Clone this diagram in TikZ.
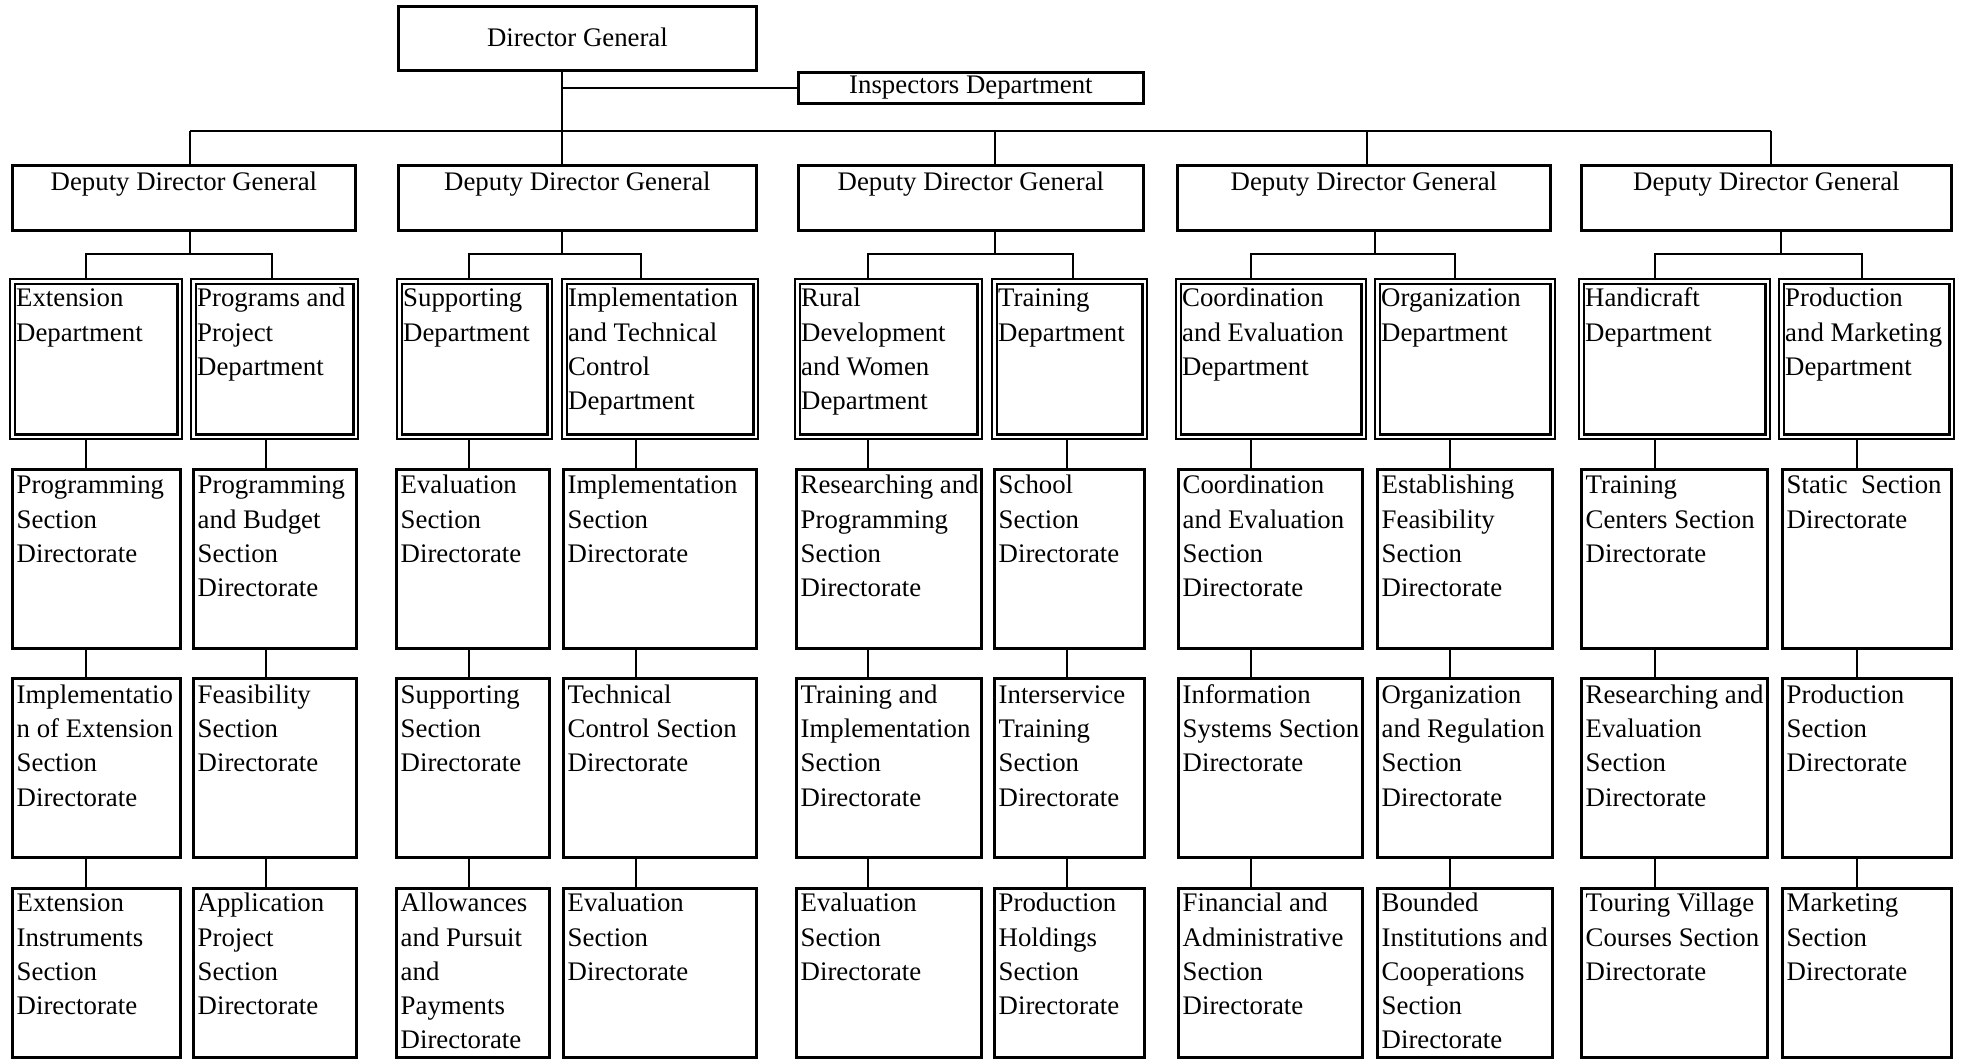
\documentclass[tikz,border=0pt]{standalone}
\usepackage{fontspec}
\setmainfont{Liberation Serif}
\begin{document}
\begin{tikzpicture}[x=1pt,y=-1pt,
  box/.style={draw, line width=2.8pt, inner sep=0pt, anchor=north west},
  dbox/.style={draw, line width=2.4pt, double, double distance=2.4pt, inner sep=0pt, anchor=north west},
  conn/.style={line width=2pt},
  txt/.style={inner sep=0pt, anchor=north west, align=left, font=\fontsize{26.8pt}{34.3pt}\selectfont},
  ctxt/.style={inner sep=0pt, anchor=north, align=center, font=\fontsize{26.8pt}{34.3pt}\selectfont}]
\useasboundingbox (0,0) rectangle (1962,1059);
\fill[white] (0,0) rectangle (1962,1059);
% top level
\node[box, minimum width=358pt, minimum height=64pt, font=\fontsize{26.8pt}{34.3pt}\selectfont] (dg) at (397,5) {\raisebox{1.5pt}{Director General}};
\node[box, minimum width=345pt, minimum height=31pt, font=\fontsize{26.8pt}{34.3pt}\selectfont] (insp) at (797,71) {Inspectors Department};
% deputy directors
\node[box, minimum width=343pt, minimum height=65pt] (ddg1) at (11,164) {};
\node[box, minimum width=358pt, minimum height=65pt] (ddg2) at (397,164) {};
\node[box, minimum width=345pt, minimum height=65pt] (ddg3) at (797,164) {};
\node[box, minimum width=373pt, minimum height=65pt] (ddg4) at (1176,164) {};
\node[box, minimum width=370pt, minimum height=65pt] (ddg5) at (1580,164) {};
\foreach \i in {1,...,5}{
  \node[ctxt] (ddgt\i) at ([yshift=-4.5pt]ddg\i.north) {\rule{0pt}{22pt}Deputy Director General};
}
% departments (double border)
\foreach \i/\l/\w in {1/11.4/167.2, 2/192.4/162.2, 3/398.4/150.2, 4/563.4/191.2, 5/796.4/182.2, 6/993.4/150.2, 7/1177.4/185.2, 8/1376.4/175.2, 9/1580.4/186.2, 10/1780.4/170.2}{
  \node[dbox, minimum width=\w pt, minimum height=155.2pt] (d\i) at (\l,280.4) {};
}
% section rows
\foreach \i/\l/\w in {1/11/168, 2/192/163, 3/395/153, 4/562/193, 5/795/185, 6/993/150, 7/1177/184, 8/1376/175, 9/1580/186, 10/1781/169}{
  \node[box, minimum width=\w pt, minimum height=179pt] (a\i) at (\l,468) {};
  \node[box, minimum width=\w pt, minimum height=179pt] (b\i) at (\l,677) {};
  \node[box, minimum width=\w pt, minimum height=169pt] (c\i) at (\l,887) {};
}
% department texts
\node[txt] (dt1) at ([xshift=4.6pt,yshift=-4.2pt]d1.north west) {\rule{0pt}{22pt}Extension\\Department};
\node[txt] (dt2) at ([xshift=4.6pt,yshift=-4.2pt]d2.north west) {\rule{0pt}{22pt}Programs and\\Project\\Department};
\node[txt] (dt3) at ([xshift=4.6pt,yshift=-4.2pt]d3.north west) {\rule{0pt}{22pt}Supporting\\Department};
\node[txt] (dt4) at ([xshift=4.6pt,yshift=-4.2pt]d4.north west) {\rule{0pt}{22pt}Implementation\\and Technical\\Control\\Department};
\node[txt] (dt5) at ([xshift=4.6pt,yshift=-4.2pt]d5.north west) {\rule{0pt}{22pt}Rural\\Development\\and Women\\Department};
\node[txt] (dt6) at ([xshift=4.6pt,yshift=-4.2pt]d6.north west) {\rule{0pt}{22pt}Training\\Department};
\node[txt] (dt7) at ([xshift=4.6pt,yshift=-4.2pt]d7.north west) {\rule{0pt}{22pt}Coordination\\and Evaluation\\Department};
\node[txt] (dt8) at ([xshift=4.6pt,yshift=-4.2pt]d8.north west) {\rule{0pt}{22pt}Organization\\Department};
\node[txt] (dt9) at ([xshift=4.6pt,yshift=-4.2pt]d9.north west) {\rule{0pt}{22pt}Handicraft\\Department};
\node[txt] (dt10) at ([xshift=4.6pt,yshift=-4.2pt]d10.north west) {\rule{0pt}{22pt}Production\\and Marketing\\Department};
% row A texts
\node[txt] (at1) at ([xshift=5.5pt,yshift=-3.5pt]a1.north west) {\rule{0pt}{22pt}Programming\\Section\\Directorate};
\node[txt] (at2) at ([xshift=5.5pt,yshift=-3.5pt]a2.north west) {\rule{0pt}{22pt}Programming\\and Budget\\Section\\Directorate};
\node[txt] (at3) at ([xshift=5.5pt,yshift=-3.5pt]a3.north west) {\rule{0pt}{22pt}Evaluation\\Section\\Directorate};
\node[txt] (at4) at ([xshift=5.5pt,yshift=-3.5pt]a4.north west) {\rule{0pt}{22pt}Implementation\\Section\\Directorate};
\node[txt] (at5) at ([xshift=5.5pt,yshift=-3.5pt]a5.north west) {\rule{0pt}{22pt}Researching and\\Programming\\Section\\Directorate};
\node[txt] (at6) at ([xshift=5.5pt,yshift=-3.5pt]a6.north west) {\rule{0pt}{22pt}School\\Section\\Directorate};
\node[txt] (at7) at ([xshift=5.5pt,yshift=-3.5pt]a7.north west) {\rule{0pt}{22pt}Coordination\\and Evaluation\\Section\\Directorate};
\node[txt] (at8) at ([xshift=5.5pt,yshift=-3.5pt]a8.north west) {\rule{0pt}{22pt}Establishing\\Feasibility\\Section\\Directorate};
\node[txt] (at9) at ([xshift=5.5pt,yshift=-3.5pt]a9.north west) {\rule{0pt}{22pt}Training\\Centers Section\\Directorate};
\node[txt] (at10) at ([xshift=5.5pt,yshift=-3.5pt]a10.north west) {\rule{0pt}{22pt}Static\ \ Section\\Directorate};
% row B texts
\node[txt] (bt1) at ([xshift=5.5pt,yshift=-4pt]b1.north west) {\rule{0pt}{22pt}Implementatio\\n of Extension\\Section\\Directorate};
\node[txt] (bt2) at ([xshift=5.5pt,yshift=-4pt]b2.north west) {\rule{0pt}{22pt}Feasibility\\Section\\Directorate};
\node[txt] (bt3) at ([xshift=5.5pt,yshift=-4pt]b3.north west) {\rule{0pt}{22pt}Supporting\\Section\\Directorate};
\node[txt] (bt4) at ([xshift=5.5pt,yshift=-4pt]b4.north west) {\rule{0pt}{22pt}Technical\\Control Section\\Directorate};
\node[txt] (bt5) at ([xshift=5.5pt,yshift=-4pt]b5.north west) {\rule{0pt}{22pt}Training and\\Implementation\\Section\\Directorate};
\node[txt] (bt6) at ([xshift=5.5pt,yshift=-4pt]b6.north west) {\rule{0pt}{22pt}Interservice\\Training\\Section\\Directorate};
\node[txt] (bt7) at ([xshift=5.5pt,yshift=-4pt]b7.north west) {\rule{0pt}{22pt}Information\\Systems Section\\Directorate};
\node[txt] (bt8) at ([xshift=5.5pt,yshift=-4pt]b8.north west) {\rule{0pt}{22pt}Organization\\and Regulation\\Section\\Directorate};
\node[txt] (bt9) at ([xshift=5.5pt,yshift=-4pt]b9.north west) {\rule{0pt}{22pt}Researching and\\Evaluation\\Section\\Directorate};
\node[txt] (bt10) at ([xshift=5.5pt,yshift=-4pt]b10.north west) {\rule{0pt}{22pt}Production\\Section\\Directorate};
% row C texts
\node[txt] (ct1) at ([xshift=5.5pt,yshift=-2.5pt]c1.north west) {\rule{0pt}{22pt}Extension\\Instruments\\Section\\Directorate};
\node[txt] (ct2) at ([xshift=5.5pt,yshift=-2.5pt]c2.north west) {\rule{0pt}{22pt}Application\\Project\\Section\\Directorate};
\node[txt] (ct3) at ([xshift=5.5pt,yshift=-2.5pt]c3.north west) {\rule{0pt}{22pt}Allowances\\and Pursuit\\and\\Payments\\Directorate};
\node[txt] (ct4) at ([xshift=5.5pt,yshift=-2.5pt]c4.north west) {\rule{0pt}{22pt}Evaluation\\Section\\Directorate};
\node[txt] (ct5) at ([xshift=5.5pt,yshift=-2.5pt]c5.north west) {\rule{0pt}{22pt}Evaluation\\Section\\Directorate};
\node[txt] (ct6) at ([xshift=5.5pt,yshift=-2.5pt]c6.north west) {\rule{0pt}{22pt}Production\\Holdings\\Section\\Directorate};
\node[txt] (ct7) at ([xshift=5.5pt,yshift=-2.5pt]c7.north west) {\rule{0pt}{22pt}Financial and\\Administrative\\Section\\Directorate};
\node[txt] (ct8) at ([xshift=5.5pt,yshift=-2.5pt]c8.north west) {\rule{0pt}{22pt}Bounded\\Institutions and\\Cooperations\\Section\\Directorate};
\node[txt] (ct9) at ([xshift=5.5pt,yshift=-2.5pt]c9.north west) {\rule{0pt}{22pt}Touring Village\\Courses Section\\Directorate};
\node[txt] (ct10) at ([xshift=5.5pt,yshift=-2.5pt]c10.north west) {\rule{0pt}{22pt}Marketing\\Section\\Directorate};
% connector guide coordinates
\coordinate (k1) at (190,131);
\coordinate (k2) at (562,131);
\coordinate (k3) at (995,131);
\coordinate (k4) at (1367,131);
\coordinate (k5) at (1771,131);
% main level
\draw[conn] (k2 |- dg.south) -- (k2 |- ddg2.north);
\draw[conn] (k2 |- insp.west) -- (insp.west);
\draw[conn] (k1) -- (k5);
\foreach \i in {1,3,4,5}{ \draw[conn] (k\i) -- (k\i |- ddg\i.north); }
% sub-buses
\foreach \g/\c/\l/\r/\dl/\dr in {1/190/86/272/1/2, 2/562/469/641/3/4, 3/995/868/1073/5/6, 4/1375/1251/1455/7/8, 5/1781/1655/1862/9/10}{
  \coordinate (m\g) at (\c,254);
  \coordinate (ml\g) at (\l,254);
  \coordinate (mr\g) at (\r,254);
  \draw[conn] (m\g |- ddg\g.south) -- (m\g);
  \draw[conn] (ml\g |- d\dl.north) -- (ml\g) -- (mr\g) -- (mr\g |- d\dr.north);
}
% column links
\foreach \i/\x in {1/86, 2/266, 3/469, 4/636, 5/868, 6/1067, 7/1251, 8/1450, 9/1655, 10/1857}{
  \coordinate (q\i) at (\x,0);
  \draw[conn] (q\i |- d\i.south) -- (q\i |- a\i.north);
  \draw[conn] (q\i |- a\i.south) -- (q\i |- b\i.north);
  \draw[conn] (q\i |- b\i.south) -- (q\i |- c\i.north);
}
\end{tikzpicture}
\end{document}
